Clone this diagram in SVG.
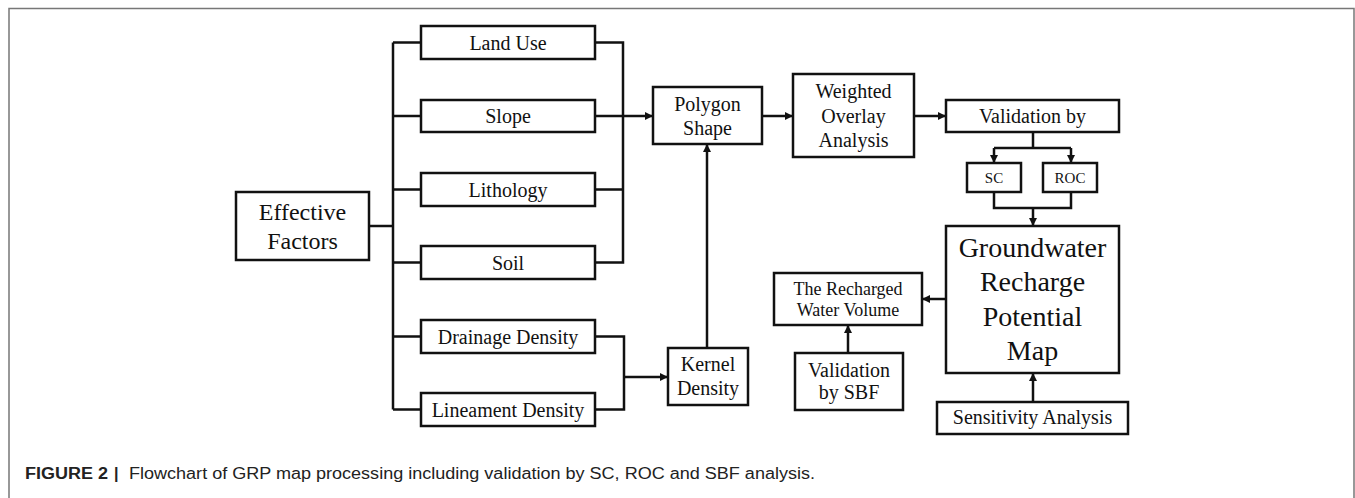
<svg xmlns="http://www.w3.org/2000/svg" width="1355" height="498" viewBox="0 0 1355 498">
<style>
.box{fill:#fff;stroke:#111;stroke-width:2.5}
.ln{fill:none;stroke:#111;stroke-width:2.5}
.t{font-family:"Liberation Serif","Times New Roman",serif;font-size:20px;fill:#111;text-anchor:middle}
.cap{font-family:"Liberation Sans",Arial,sans-serif;font-size:16px;fill:#222}
</style>
<defs>
<marker id="ah" markerUnits="userSpaceOnUse" markerWidth="9" markerHeight="8" refX="8" refY="4" orient="auto">
<path d="M0,0 L8,4 L0,8 z" fill="#111"/>
</marker>
</defs>
<rect width="1355" height="498" fill="#fff"/>
<path d="M9,498 V8.5 H1354 V498" fill="none" stroke="#777" stroke-width="1.5"/>

<g id="connectors">
<line class="ln" x1="369" y1="226" x2="393" y2="226"/>
<line class="ln" x1="393" y1="42.5" x2="393" y2="409.5"/>
<line class="ln" x1="393" y1="42.5" x2="421" y2="42.5"/>
<line class="ln" x1="393" y1="116" x2="421" y2="116"/>
<line class="ln" x1="393" y1="189.5" x2="421" y2="189.5"/>
<line class="ln" x1="393" y1="262.5" x2="421" y2="262.5"/>
<line class="ln" x1="393" y1="336.5" x2="421" y2="336.5"/>
<line class="ln" x1="393" y1="409.5" x2="421" y2="409.5"/>
<path class="ln" d="M595,42.5 H623 V262.5 H595 M595,116 H623 M595,189.5 H623"/>
<line class="ln" x1="623" y1="116" x2="653" y2="116" marker-end="url(#ah)"/>
<path class="ln" d="M595,336.5 H624 V409.5 H595"/>
<line class="ln" x1="624" y1="377" x2="668" y2="377" marker-end="url(#ah)"/>
<line class="ln" x1="707" y1="348" x2="707" y2="144" marker-end="url(#ah)"/>
<line class="ln" x1="762" y1="116" x2="793" y2="116" marker-end="url(#ah)"/>
<line class="ln" x1="914" y1="116" x2="946" y2="116" marker-end="url(#ah)"/>
<path class="ln" d="M1033,132 V148 M994,148 H1071"/>
<line class="ln" x1="994" y1="148" x2="994" y2="163" marker-end="url(#ah)"/>
<line class="ln" x1="1071" y1="148" x2="1071" y2="163" marker-end="url(#ah)"/>
<path class="ln" d="M994,192 V208 H1071 V192"/>
<line class="ln" x1="1033" y1="208" x2="1033" y2="226" marker-end="url(#ah)"/>
<line class="ln" x1="946" y1="299" x2="922" y2="299" marker-end="url(#ah)"/>
<line class="ln" x1="848" y1="353" x2="848" y2="325" marker-end="url(#ah)"/>
<line class="ln" x1="1033" y1="402" x2="1033" y2="373" marker-end="url(#ah)"/>
</g>

<g id="effective-factors">
<rect class="box" x="236" y="192" width="133" height="68"/>
<text class="t" x="302.5" y="220" style="font-size:24px">Effective</text>
<text class="t" x="302.5" y="249" style="font-size:24px">Factors</text>
</g>
<g id="land-use">
<rect class="box" x="421" y="26" width="174" height="33"/>
<text class="t" x="508" y="50">Land Use</text>
</g>
<g id="slope">
<rect class="box" x="421" y="100" width="174" height="32"/>
<text class="t" x="508" y="123">Slope</text>
</g>
<g id="lithology">
<rect class="box" x="421" y="173" width="174" height="33"/>
<text class="t" x="508" y="197">Lithology</text>
</g>
<g id="soil">
<rect class="box" x="421" y="246" width="174" height="33"/>
<text class="t" x="508" y="270">Soil</text>
</g>
<g id="drainage-density">
<rect class="box" x="421" y="320" width="174" height="33"/>
<text class="t" x="508" y="344">Drainage Density</text>
</g>
<g id="lineament-density">
<rect class="box" x="421" y="393" width="174" height="33"/>
<text class="t" x="508" y="417">Lineament Density</text>
</g>
<g id="polygon-shape">
<rect class="box" x="653" y="87" width="109" height="57"/>
<text class="t" x="707.5" y="111">Polygon</text>
<text class="t" x="707.5" y="135">Shape</text>
</g>
<g id="kernel-density">
<rect class="box" x="668" y="348" width="80" height="57"/>
<text class="t" x="708" y="371">Kernel</text>
<text class="t" x="708" y="395">Density</text>
</g>
<g id="weighted-overlay">
<rect class="box" x="793" y="74" width="121" height="83"/>
<text class="t" x="853.5" y="98">Weighted</text>
<text class="t" x="853.5" y="123">Overlay</text>
<text class="t" x="853.5" y="147">Analysis</text>
</g>
<g id="validation-by">
<rect class="box" x="946" y="100" width="173" height="32"/>
<text class="t" x="1032.5" y="123">Validation by</text>
</g>
<g id="sc">
<rect class="box" x="967" y="163" width="54" height="29"/>
<text class="t" x="994" y="183" style="font-size:15px">SC</text>
</g>
<g id="roc">
<rect class="box" x="1043" y="163" width="54" height="29"/>
<text class="t" x="1070" y="183" style="font-size:15px">ROC</text>
</g>
<g id="grp-map">
<rect class="box" x="946" y="226" width="173" height="147"/>
<text class="t" x="1032.5" y="257" style="font-size:28px">Groundwater</text>
<text class="t" x="1032.5" y="291" style="font-size:28px">Recharge</text>
<text class="t" x="1032.5" y="326" style="font-size:28px">Potential</text>
<text class="t" x="1032.5" y="360" style="font-size:28px">Map</text>
</g>
<g id="sensitivity-analysis">
<rect class="box" x="937" y="402" width="191" height="32"/>
<text class="t" x="1032.5" y="424">Sensitivity Analysis</text>
</g>
<g id="recharged-water-volume">
<rect class="box" x="774" y="273" width="148" height="52"/>
<text class="t" x="848" y="295" style="font-size:18px">The Recharged</text>
<text class="t" x="848" y="316" style="font-size:18px">Water Volume</text>
</g>
<g id="validation-sbf">
<rect class="box" x="795" y="353" width="108" height="57"/>
<text class="t" x="849" y="377">Validation</text>
<text class="t" x="849" y="399">by SBF</text>
</g>

<g id="caption">
<text class="cap" x="25" y="479" font-weight="bold" textLength="83" lengthAdjust="spacingAndGlyphs">FIGURE 2</text>
<text class="cap" x="114" y="479" font-weight="bold">|</text>
<text class="cap" x="129" y="479" textLength="686" lengthAdjust="spacingAndGlyphs">Flowchart of GRP map processing including validation by SC, ROC and SBF analysis.</text>
</g>
</svg>
